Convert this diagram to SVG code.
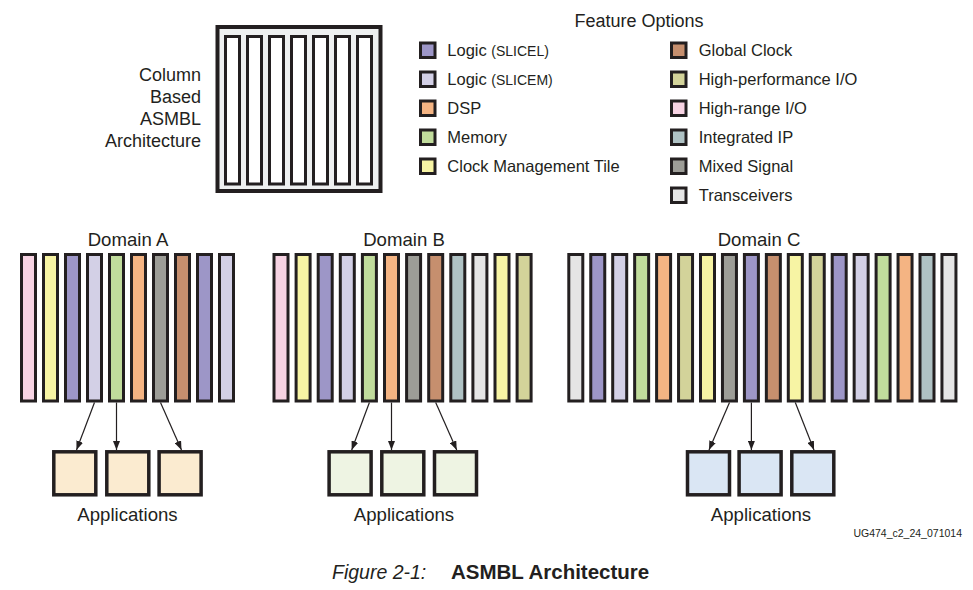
<svg xmlns="http://www.w3.org/2000/svg" width="973" height="590" viewBox="0 0 973 590">
<style>
text{font-family:"Liberation Sans",Arial,sans-serif;fill:#231f20}
.lbl{font-size:18px}
.dl{font-size:18.6px}
.leg{font-size:16.5px}
.sm{font-size:14px}
.col{stroke:#231f20;stroke-width:3}
.box{stroke:#231f20;stroke-width:3.5}
.sq{stroke:#231f20;stroke-width:3}
.arr{stroke:#231f20;stroke-width:1.2;fill:none;marker-end:url(#ah)}
.sl{fill:#9d96c7}.sm2{fill:#d3d0e6}.dsp{fill:#f4b483}.mem{fill:#c1dc9c}.cmt{fill:#f7f4a4}
.gc{fill:#c68f6e}.hp{fill:#d3d39a}.hr{fill:#f7d3e3}.ip{fill:#afc2c4}.ms{fill:#9d9d97}.tr{fill:#e5e5e5}
.wh{fill:#ffffff}
.aA{fill:#fbebd0}.aB{fill:#eef4e3}.aC{fill:#dae6f4}
</style>
<defs>
<marker id="ah" markerUnits="userSpaceOnUse" markerWidth="9" markerHeight="7" refX="9" refY="3.5" orient="auto">
<path d="M0,0 L9,3.5 L0,7 z" fill="#231f20"/>
</marker>
</defs>
<rect width="973" height="590" fill="#ffffff"/>

<g id="asmbl">
<rect x="217.5" y="27" width="163" height="164" fill="#eef0f0" stroke="#231f20" stroke-width="4"/>
<rect class="col wh" x="225.5" y="36.5" width="14" height="147.5"/>
<rect class="col wh" x="247.5" y="36.5" width="14" height="147.5"/>
<rect class="col wh" x="269.5" y="36.5" width="14" height="147.5"/>
<rect class="col wh" x="291.5" y="36.5" width="14" height="147.5"/>
<rect class="col wh" x="313.5" y="36.5" width="14" height="147.5"/>
<rect class="col wh" x="335.5" y="36.5" width="14" height="147.5"/>
<rect class="col wh" x="357.5" y="36.5" width="14" height="147.5"/>
<text class="lbl" text-anchor="end" x="201" y="80.5">Column</text>
<text class="lbl" text-anchor="end" x="201" y="102.8">Based</text>
<text class="lbl" text-anchor="end" x="201" y="125.1">ASMBL</text>
<text class="lbl" text-anchor="end" x="201" y="147.4">Architecture</text>
</g>

<g id="legend">
<text class="lbl" text-anchor="middle" x="639" y="26.5" font-size="18.3">Feature Options</text>
<rect class="sq sl" x="420.5" y="43" width="14.5" height="14.5"/>
<rect class="sq sm2" x="420.5" y="72" width="14.5" height="14.5"/>
<rect class="sq dsp" x="420.5" y="101" width="14.5" height="14.5"/>
<rect class="sq mem" x="420.5" y="130" width="14.5" height="14.5"/>
<rect class="sq cmt" x="420.5" y="159" width="14.5" height="14.5"/>
<rect class="sq gc" x="671.5" y="43" width="14.5" height="14.5"/>
<rect class="sq hp" x="671.5" y="72" width="14.5" height="14.5"/>
<rect class="sq hr" x="671.5" y="101" width="14.5" height="14.5"/>
<rect class="sq ip" x="671.5" y="130" width="14.5" height="14.5"/>
<rect class="sq ms" x="671.5" y="159" width="14.5" height="14.5"/>
<rect class="sq tr" x="671.5" y="188" width="14.5" height="14.5"/>
<text class="leg" x="447.3" y="56">Logic <tspan class="sm">(SLICEL)</tspan></text>
<text class="leg" x="447.3" y="85">Logic <tspan class="sm">(SLICEM)</tspan></text>
<text class="leg" x="447.3" y="114">DSP</text>
<text class="leg" x="447.3" y="143">Memory</text>
<text class="leg" x="447.3" y="172">Clock Management Tile</text>
<text class="leg" x="698.7" y="56">Global Clock</text>
<text class="leg" x="698.7" y="85">High-performance I/O</text>
<text class="leg" x="698.7" y="114">High-range I/O</text>
<text class="leg" x="698.7" y="143">Integrated IP</text>
<text class="leg" x="698.7" y="172">Mixed Signal</text>
<text class="leg" x="698.7" y="201">Transceivers</text>
</g>

<g id="domainA">
<text class="dl" text-anchor="middle" x="128" y="246">Domain A</text>
<rect class="col hr" x="21.5" y="254.5" width="14" height="146.5"/>
<rect class="col cmt" x="43.5" y="254.5" width="14" height="146.5"/>
<rect class="col sl" x="65.5" y="254.5" width="14" height="146.5"/>
<rect class="col sm2" x="87.5" y="254.5" width="14" height="146.5"/>
<rect class="col mem" x="109.5" y="254.5" width="14" height="146.5"/>
<rect class="col dsp" x="131.5" y="254.5" width="14" height="146.5"/>
<rect class="col ms" x="153.5" y="254.5" width="14" height="146.5"/>
<rect class="col gc" x="175.5" y="254.5" width="14" height="146.5"/>
<rect class="col sl" x="197.5" y="254.5" width="14" height="146.5"/>
<rect class="col sm2" x="219.5" y="254.5" width="14" height="146.5"/>
</g>
<g id="appsA">
<rect class="box aA" x="53.8" y="451.8" width="42" height="43"/>
<rect class="box aA" x="106.8" y="451.8" width="42" height="43"/>
<rect class="box aA" x="159.1" y="451.8" width="42" height="43"/>
<text class="dl" text-anchor="middle" x="127.5" y="521">Applications</text>
</g>

<g id="domainB">
<text class="dl" text-anchor="middle" x="404" y="246">Domain B</text>
<rect class="col hr" x="274" y="254.5" width="14" height="146.5"/>
<rect class="col cmt" x="296.1" y="254.5" width="14" height="146.5"/>
<rect class="col sl" x="318.2" y="254.5" width="14" height="146.5"/>
<rect class="col sm2" x="340.3" y="254.5" width="14" height="146.5"/>
<rect class="col mem" x="362.4" y="254.5" width="14" height="146.5"/>
<rect class="col dsp" x="384.5" y="254.5" width="14" height="146.5"/>
<rect class="col ms" x="406.6" y="254.5" width="14" height="146.5"/>
<rect class="col gc" x="428.7" y="254.5" width="14" height="146.5"/>
<rect class="col ip" x="450.8" y="254.5" width="14" height="146.5"/>
<rect class="col tr" x="472.9" y="254.5" width="14" height="146.5"/>
<rect class="col cmt" x="495" y="254.5" width="14" height="146.5"/>
<rect class="col hp" x="517.1" y="254.5" width="14" height="146.5"/>
</g>
<g id="appsB">
<rect class="box aB" x="329.1" y="451.8" width="42" height="43"/>
<rect class="box aB" x="381.8" y="451.8" width="42" height="43"/>
<rect class="box aB" x="434.5" y="451.8" width="42" height="43"/>
<text class="dl" text-anchor="middle" x="404" y="521">Applications</text>
</g>

<g id="domainC">
<text class="dl" text-anchor="middle" x="759" y="246">Domain C</text>
<rect class="col tr" x="568.8" y="254.5" width="14" height="146.5"/>
<rect class="col sl" x="590.75" y="254.5" width="14" height="146.5"/>
<rect class="col sm2" x="612.7" y="254.5" width="14" height="146.5"/>
<rect class="col mem" x="634.65" y="254.5" width="14" height="146.5"/>
<rect class="col dsp" x="656.6" y="254.5" width="14" height="146.5"/>
<rect class="col hp" x="678.55" y="254.5" width="14" height="146.5"/>
<rect class="col cmt" x="700.5" y="254.5" width="14" height="146.5"/>
<rect class="col ms" x="722.45" y="254.5" width="14" height="146.5"/>
<rect class="col sl" x="744.4" y="254.5" width="14" height="146.5"/>
<rect class="col gc" x="766.35" y="254.5" width="14" height="146.5"/>
<rect class="col cmt" x="788.3" y="254.5" width="14" height="146.5"/>
<rect class="col hp" x="810.25" y="254.5" width="14" height="146.5"/>
<rect class="col sl" x="832.2" y="254.5" width="14" height="146.5"/>
<rect class="col sm2" x="854.15" y="254.5" width="14" height="146.5"/>
<rect class="col mem" x="876.1" y="254.5" width="14" height="146.5"/>
<rect class="col dsp" x="898.05" y="254.5" width="14" height="146.5"/>
<rect class="col ip" x="920" y="254.5" width="14" height="146.5"/>
<rect class="col tr" x="941.95" y="254.5" width="14" height="146.5"/>
</g>
<g id="appsC">
<rect class="box aC" x="687.5" y="451.8" width="42" height="43"/>
<rect class="box aC" x="739.1" y="451.8" width="42" height="43"/>
<rect class="box aC" x="791.8" y="451.8" width="42" height="43"/>
<text class="dl" text-anchor="middle" x="761" y="521">Applications</text>
</g>

<g id="connectors">
<line class="arr" x1="94.5" y1="402.5" x2="76.5" y2="450"/>
<line class="arr" x1="116.5" y1="402.5" x2="116.5" y2="450"/>
<line class="arr" x1="160.5" y1="402.5" x2="181.5" y2="450"/>
<line class="arr" x1="369.4" y1="402.5" x2="351.7" y2="450"/>
<line class="arr" x1="391.5" y1="402.5" x2="391.5" y2="450"/>
<line class="arr" x1="435.7" y1="402.5" x2="456.7" y2="450"/>
<line class="arr" x1="729.5" y1="402.5" x2="709" y2="450"/>
<line class="arr" x1="751.4" y1="402.5" x2="751.4" y2="450"/>
<line class="arr" x1="795.3" y1="402.5" x2="814" y2="450"/>
</g>

<text x="962" y="536.5" text-anchor="end" font-size="10.5">UG474_c2_24_071014</text>
<text x="332" y="578.7" font-size="19.5" font-style="italic">Figure 2-1:</text>
<text x="451" y="578.7" font-size="20.5" font-weight="bold">ASMBL Architecture</text>
</svg>
